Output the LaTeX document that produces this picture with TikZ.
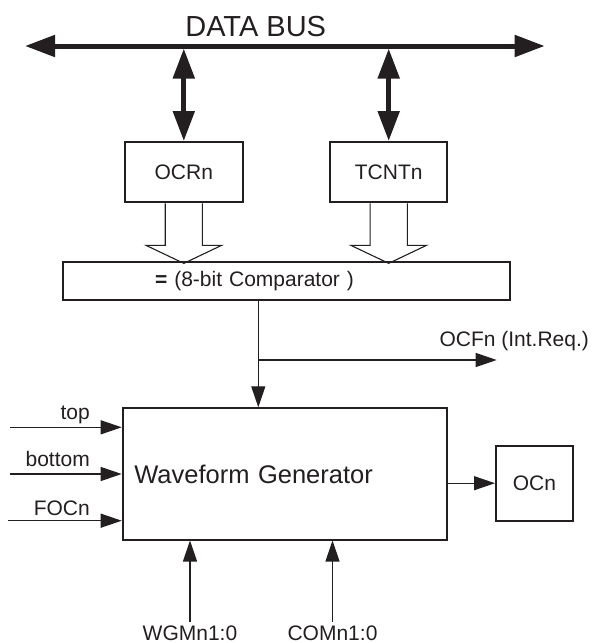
\documentclass[tikz,border=0pt]{standalone}
\usepackage{fontspec}
\setmainfont{Liberation Sans}
\usetikzlibrary{arrows.meta}
\definecolor{ink}{HTML}{231F20}
\newcommand\lblsize{\fontsize{21}{25}\selectfont}
\newcommand\wgsize{\fontsize{25.5}{30}\selectfont}
\newcommand\bussize{\fontsize{29}{34}\selectfont}
\tikzset{
  box/.style={draw=ink, line width=2pt, inner sep=0pt, text=ink, font=\lblsize},
  sig/.style={draw=ink, line width=1.2pt, -{Triangle[length=21pt,width=14pt]}},
  bus/.style={draw=ink, line width=5pt, {Triangle[length=30pt,width=21pt]}-{Triangle[length=30pt,width=21pt]}},
  hollow/.style={draw=ink, line width=1.1pt, line join=miter},
  lab/.style={text=ink, font=\lblsize, inner sep=0pt},
}
\begin{document}
\begin{tikzpicture}[x=1pt,y=-1pt]
  \useasboundingbox (0,0) rectangle (593,643);
  % data bus
  \coordinate (busL) at (25,46);
  \coordinate (busR) at (544.7,46);
  \draw[bus] (busL) -- (busR);
  \node[lab, font=\bussize, anchor=base] (busname) at (255.7,36) {DATA BUS};
  % registers
  \node[box, minimum width=117.7pt, minimum height=60.3pt] (ocr) at (183.8,172.2) {OCRn};
  \node[box, minimum width=117pt, minimum height=60.3pt] (tcnt) at (388.7,172.2) {TCNTn};
  \foreach \reg in {ocr,tcnt}
    \draw[bus, shorten <=2.5pt] (\reg.north |- busL) -- (\reg.north);
  % comparator
  \node[box, minimum height=37.7pt, inner xsep=92.3pt, text width=262.7pt, align=left] (cmp) at (286.35,281.2) {{\bfseries =} (8-bit Comparator )};
  \foreach \reg in {ocr,tcnt}
    \draw[hollow] ([xshift=-18.6pt]\reg.south) -- ++(0,42) -- ++(-19.2,0) -- ++(37.8,18)
      -- ++(37.8,-18) -- ++(-19.2,0) -- ++(0,-42);
  % waveform generator and output
  \node[box, font=\wgsize, minimum height=131.2pt, inner xsep=11.6pt, text width=300.8pt, align=left] (wg) at (284.7,473.9) {Waveform Generator};
  \node[box, minimum width=76.7pt, minimum height=75pt] (ocn) at (534.35,483.2) {OCn};
  \coordinate (tap) at (258.3,360);
  \coordinate (req) at (496.7,360);
  \draw[sig] (cmp.south -| tap) -- (wg.north -| tap);
  \draw[sig] (tap) -- (req);
  \node[lab, anchor=base west] (ocf) at (439.3,346.7) {OCFn (Int.Req.)};
  \draw[sig] (ocn.west -| wg.east) -- (ocn.west);
  % inputs on the left
  \foreach \name/\txt/\y/\b/\x in {top/top/427.3/419.3/10, bot/bottom/474/466/10, foc/FOCn/520.7/515/8} {
    \coordinate (\name) at (\x,\y);
    \node[lab, anchor=base east] (\name lab) at (90,\b) {\txt};
    \draw[sig] (\name) -- (\name -| wg.west);
  }
  % mode inputs below
  \foreach \name/\txt/\x in {wgm/WGMn1:0/190, com/COMn1:0/332.5} {
    \node[lab, anchor=base, inner sep=3.5pt] (\name) at (\x,640) {\txt};
    \draw[sig] (\name.north) -- (\name.north |- wg.south);
  }
\end{tikzpicture}
\end{document}
